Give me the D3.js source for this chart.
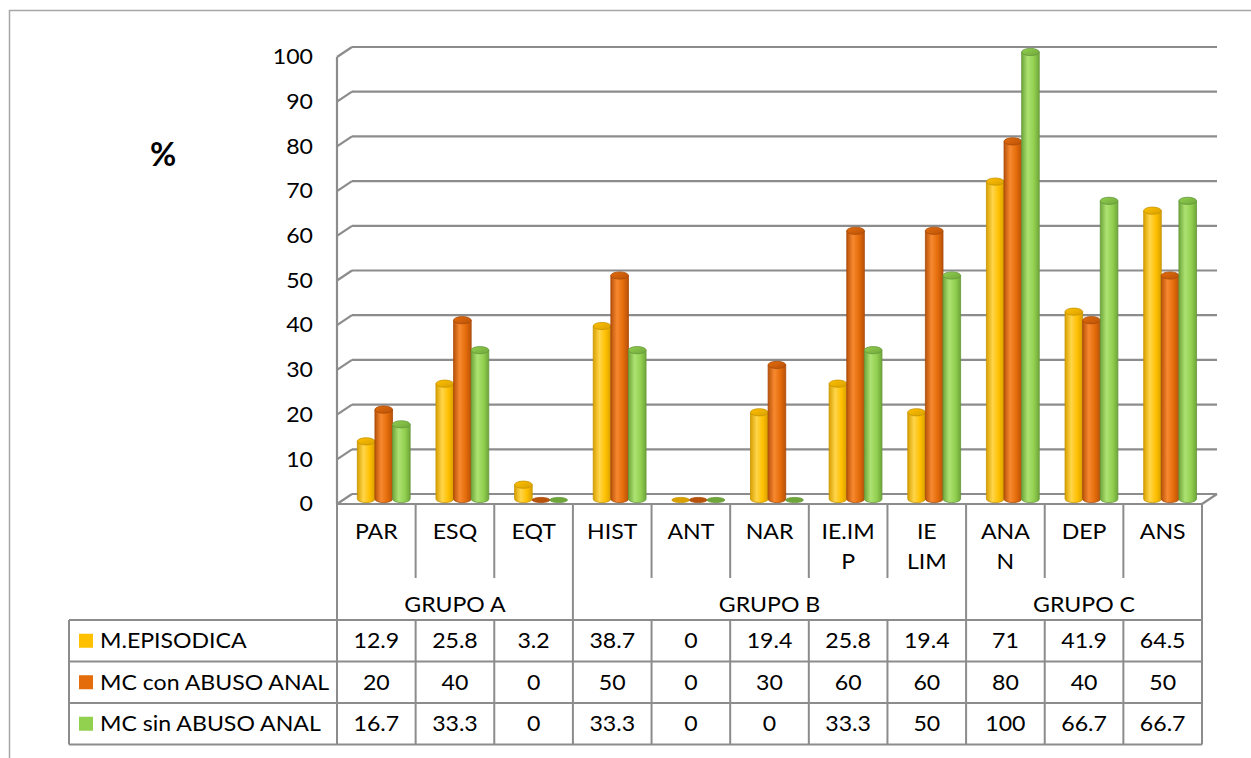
<!DOCTYPE html>
<html>
<head>
<meta charset="utf-8">
<script src="https://cdn.jsdelivr.net/npm/d3@7"></script>
<style>
  html, body { margin: 0; padding: 0; background: #fff; }
  svg { display: block; }
  text { font-family: Lato, "Open Sans", sans-serif; fill: #000; }
</style>
</head>
<body>
<svg id="chart" width="1251" height="758"></svg>
<script>
// Categories (display lines as they wrap in the axis cells)
const categories = ["PAR", "ESQ", "EQT", "HIST", "ANT", "NAR", "IE.IMP", "IE LIM", "ANAN", "DEP", "ANS"];
const categoryLines = [["PAR"], ["ESQ"], ["EQT"], ["HIST"], ["ANT"], ["NAR"], ["IE.IM", "P"], ["IE", "LIM"], ["ANA", "N"], ["DEP"], ["ANS"]];
const groups = ["GRUPO A", "GRUPO B", "GRUPO C"];
const groupSizes = [3, 5, 3];

const seriesNames = ["M.EPISODICA", "MC con ABUSO ANAL", "MC sin ABUSO ANAL"];
const mEpisodica = [12.9, 25.8, 3.2, 38.7, 0, 19.4, 25.8, 19.4, 71, 41.9, 64.5];
const mcConAbuso = [20, 40, 0, 50, 0, 30, 60, 60, 80, 40, 50];
const mcSinAbuso = [16.7, 33.3, 0, 33.3, 0, 0, 33.3, 50, 100, 66.7, 66.7];
const seriesValues = [mEpisodica, mcConAbuso, mcSinAbuso];

const yTicks = [0, 10, 20, 30, 40, 50, 60, 70, 80, 90, 100];

// Styling
const colors = {
  base: ["#FFC000", "#E46C0A", "#92D050"],
  dark: ["#D9A000", "#B9520A", "#6FA63A"],
  light: ["#FFD54A", "#F7892F", "#ADE272"],
  edge: ["#C79400", "#A84A08", "#65983A"]
};
const gridColor = "#8C8C8C";
const fontSize = 21;
const stretch = 1.1;               // slightly wide lettering
const depthX = 15, depthY = -10;   // 3-D depth offset of the back wall

const svg = d3.select("#chart");

// place a text at (px, py), horizontally widened around its anchor
function wideText(parent, px, py, str, anchor) {
  return parent.append("text")
    .attr("transform", `translate(${px},${py}) scale(${stretch},1)`)
    .attr("text-anchor", anchor || "middle")
    .text(str);
}

// Scales
const x = d3.scaleBand().domain(categories).range([337, 1202]).paddingInner(0).paddingOuter(0);
const y = d3.scaleLinear().domain([0, 100]).range([504, 57]);
const inner = d3.scaleBand().domain(seriesNames)
  .range([x.bandwidth() * 0.163, x.bandwidth() * 0.835]).padding(0);

// Outer frame
svg.append("path")
  .attr("d", "M9.5,758 L9.5,10.5 L1251,10.5")
  .attr("fill", "none").attr("stroke", "#A6A6A6").attr("stroke-width", 1.5);

// Gradients for the cylinders
const defs = svg.append("defs");
seriesNames.forEach((s, i) => {
  const g = defs.append("linearGradient").attr("id", "cyl" + i)
    .attr("x1", "0%").attr("x2", "100%").attr("y1", "0%").attr("y2", "0%");
  g.append("stop").attr("offset", "0%").attr("stop-color", colors.dark[i]);
  g.append("stop").attr("offset", "35%").attr("stop-color", colors.light[i]);
  g.append("stop").attr("offset", "70%").attr("stop-color", colors.base[i]);
  g.append("stop").attr("offset", "100%").attr("stop-color", colors.dark[i]);
  const t = defs.append("linearGradient").attr("id", "cap" + i)
    .attr("x1", "0%").attr("x2", "100%").attr("y1", "0%").attr("y2", "100%");
  t.append("stop").attr("offset", "0%").attr("stop-color", colors.base[i]);
  t.append("stop").attr("offset", "100%").attr("stop-color", colors.dark[i]);
});

// Back wall gridlines and left wall stubs
const grid = svg.append("g").attr("stroke", gridColor).attr("stroke-width", 2.2).attr("fill", "none");
grid.selectAll("line.h").data(yTicks).join("line").attr("class", "h")
  .attr("x1", 337 + depthX).attr("x2", 1202 + depthX)
  .attr("y1", d => y(d) + depthY).attr("y2", d => y(d) + depthY);
grid.selectAll("line.d").data(yTicks).join("line").attr("class", "d")
  .attr("x1", 337).attr("x2", 337 + depthX)
  .attr("y1", d => y(d)).attr("y2", d => y(d) + depthY);
grid.append("line").attr("x1", 337).attr("x2", 337).attr("y1", y(100)).attr("y2", y(0));
// floor front edge and right corner
grid.append("line").attr("x1", 337).attr("x2", 1202).attr("y1", y(0)).attr("y2", y(0));
grid.append("line").attr("x1", 1202).attr("x2", 1202 + depthX).attr("y1", y(0)).attr("y2", y(0) + depthY);

// Y axis labels
const yAxis = d3.axisLeft(y).tickValues(yTicks).tickSize(0).tickPadding(24);
const yg = svg.append("g").attr("transform", "translate(337,0)").call(yAxis);
yg.select(".domain").remove();
yg.selectAll("text")
  .style("font-family", "Lato, 'Open Sans', sans-serif")
  .attr("font-size", fontSize).attr("fill", "#000")
  .attr("x", 0)
  .attr("transform", `translate(-24,0) scale(${stretch},1)`);

// "%" axis title
svg.append("text").attr("x", 163).attr("y", 166).attr("text-anchor", "middle")
  .attr("font-size", 32).attr("font-weight", "bold").text("%");

// Cylinders
const ry = 3.6;
const bars = svg.append("g");
categories.forEach((c, ci) => {
  seriesNames.forEach((s, si) => {
    const v = seriesValues[si][ci];
    const x0 = x(c) + inner(s) + depthX / 2;
    const w = inner.bandwidth();
    const rx = w / 2;
    const cx = x0 + rx;
    const yb = y(0) + depthY / 2;
    const yt = y(v) + depthY / 2;
    if (v > 0) {
      bars.append("path")
        .attr("d", `M${x0},${yt} L${x0},${yb} A${rx},${ry} 0 0 0 ${x0 + w},${yb} L${x0 + w},${yt} Z`)
        .attr("fill", `url(#cyl${si})`).attr("stroke", colors.edge[si]).attr("stroke-width", 0.8);
    }
    bars.append("ellipse")
      .attr("cx", cx).attr("cy", v > 0 ? yt : yb + 1)
      .attr("rx", rx).attr("ry", v > 0 ? ry : 2.6)
      .attr("fill", v > 0 ? `url(#cap${si})` : colors.dark[si])
      .attr("stroke", colors.edge[si]).attr("stroke-width", 0.8);
  });
});

// Data table below the plot
const tableTop = 620, rowH = 41.5;
const tbl = svg.append("g").attr("stroke", gridColor).attr("stroke-width", 2).attr("fill", "none");
// vertical category dividers in the label row
categories.forEach((c, ci) => {
  if (ci > 0) {
    tbl.append("line").attr("x1", x(c)).attr("x2", x(c)).attr("y1", y(0)).attr("y2", 578);
  }
});
// group dividers through the group row
let acc = 0;
const groupStarts = groupSizes.map(n => { const s = acc; acc += n; return s; });
groupStarts.forEach((s, gi) => {
  if (gi > 0) {
    const gx = x(categories[s]);
    tbl.append("line").attr("x1", gx).attr("x2", gx).attr("y1", 578).attr("y2", tableTop);
  }
});
// outer sides of the axis cells
tbl.append("line").attr("x1", 337).attr("x2", 337).attr("y1", y(0)).attr("y2", tableTop + rowH * 3);
tbl.append("line").attr("x1", 1202).attr("x2", 1202).attr("y1", y(0)).attr("y2", tableTop + rowH * 3);
// value rows
for (let r = 0; r <= 3; r++) {
  tbl.append("line").attr("x1", 69).attr("x2", 1202)
    .attr("y1", tableTop + r * rowH).attr("y2", tableTop + r * rowH);
}
tbl.append("line").attr("x1", 69).attr("x2", 69).attr("y1", tableTop).attr("y2", tableTop + rowH * 3);
categories.forEach((c, ci) => {
  if (ci > 0) {
    tbl.append("line").attr("x1", x(c)).attr("x2", x(c)).attr("y1", tableTop).attr("y2", tableTop + rowH * 3);
  }
});

// category labels
const catLabels = svg.append("g").attr("font-size", fontSize);
categories.forEach((c, ci) => {
  categoryLines[ci].forEach((ln, li) => {
    wideText(catLabels, x(c) + x.bandwidth() / 2, 539 + li * 30, ln);
  });
});
// group labels
groups.forEach((g, gi) => {
  const s = groupStarts[gi];
  const x1 = x(categories[s]);
  const x2 = x(categories[s + groupSizes[gi] - 1]) + x.bandwidth();
  wideText(catLabels, (x1 + x2) / 2, 612, g);
});

// table values and legend keys
const tv = svg.append("g").attr("font-size", fontSize);
seriesNames.forEach((s, si) => {
  const cy = tableTop + si * rowH + rowH / 2;
  tv.append("rect").attr("x", 79).attr("y", cy - 7).attr("width", 14).attr("height", 14)
    .attr("fill", colors.base[si]);
  wideText(tv, 100, cy + 7.5, s, "start");
  categories.forEach((c, ci) => {
    wideText(tv, x(c) + x.bandwidth() / 2, cy + 7.5, seriesValues[si][ci]);
  });
});
</script>
</body>
</html>
